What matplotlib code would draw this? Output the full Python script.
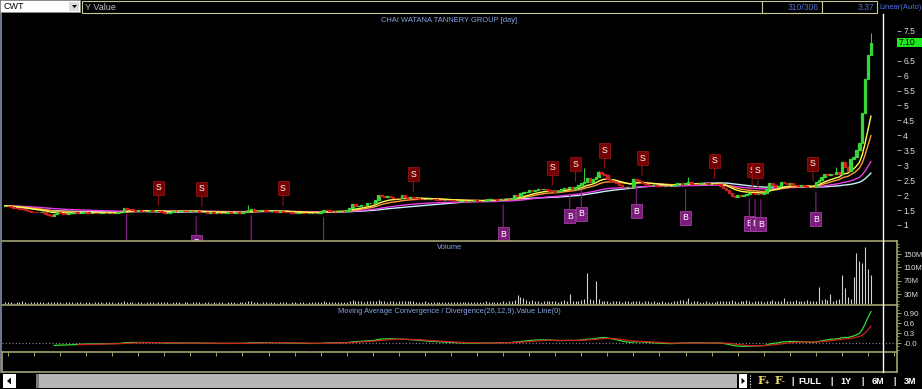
import numpy as np
import pandas as pd
import matplotlib
matplotlib.use("Agg")
import matplotlib.pyplot as plt
from matplotlib.patches import Rectangle, Polygon
from matplotlib.ticker import FixedLocator, FixedFormatter, MultipleLocator
from matplotlib.transforms import blended_transform_factory

plt.rcParams['font.family'] = ['Liberation Sans', 'DejaVu Sans']

# -- Data (daily bars, oldest first)
symbol = "CWT"
chart_title = "CHAI WATANA TANNERY GROUP [day]"
macd_title = "Moving Average Convergence / Divergence(26,12,9),Value Line(0)"
bar_count = "310/306"
cursor_value = "3.37"
scale_mode = "Linear(Auto)"
last_price = 7.10

closes = [
    1.64, 1.62, 1.60, 1.57, 1.56, 1.55, 1.52, 1.50, 1.48, 1.45, 1.44, 1.43, 1.42, 1.43, 1.38, 1.33, 1.31, 1.36, 1.43, 1.40,
    1.38, 1.37, 1.39, 1.41, 1.42, 1.40, 1.41, 1.43, 1.42, 1.41, 1.41, 1.40, 1.39, 1.40, 1.41, 1.40, 1.40, 1.39, 1.41, 1.43,
    1.45, 1.57, 1.54, 1.52, 1.50, 1.48, 1.49, 1.48, 1.47, 1.48, 1.49, 1.47, 1.48, 1.46, 1.44, 1.40, 1.41, 1.45, 1.47, 1.46,
    1.47, 1.48, 1.47, 1.46, 1.47, 1.46, 1.47, 1.44, 1.42, 1.42, 1.41, 1.42, 1.41, 1.41, 1.40, 1.41, 1.41, 1.42, 1.41, 1.41,
    1.42, 1.41, 1.42, 1.44, 1.50, 1.52, 1.48, 1.47, 1.49, 1.50, 1.48, 1.47, 1.48, 1.46, 1.45, 1.46, 1.45, 1.44, 1.42, 1.41,
    1.40, 1.40, 1.41, 1.40, 1.39, 1.40, 1.41, 1.40, 1.41, 1.43, 1.50, 1.49, 1.48, 1.47, 1.46, 1.47, 1.48, 1.47, 1.50, 1.57,
    1.70, 1.62, 1.64, 1.67, 1.66, 1.72, 1.75, 1.74, 1.85, 2.00, 1.97, 1.95, 1.96, 1.94, 1.92, 1.90, 1.89, 2.00, 1.95, 1.92,
    1.93, 1.92, 1.90, 1.88, 1.87, 1.88, 1.86, 1.87, 1.86, 1.85, 1.84, 1.83, 1.84, 1.83, 1.82, 1.81, 1.80, 1.80, 1.81, 1.80,
    1.81, 1.80, 1.82, 1.81, 1.80, 1.81, 1.84, 1.86, 1.87, 1.86, 1.85, 1.87, 1.86, 1.88, 1.87, 1.90, 2.02, 1.97, 2.07, 2.10,
    2.12, 2.17, 2.15, 2.18, 2.20, 2.19, 2.22, 2.18, 2.15, 2.13, 2.12, 2.13, 2.20, 2.25, 2.23, 2.27, 2.22, 2.27, 2.35, 2.40,
    2.45, 2.57, 2.44, 2.55, 2.62, 2.77, 2.72, 2.67, 2.55, 2.47, 2.44, 2.40, 2.33, 2.28, 2.27, 2.28, 2.27, 2.54, 2.50, 2.47,
    2.42, 2.36, 2.34, 2.33, 2.35, 2.32, 2.31, 2.30, 2.31, 2.29, 2.30, 2.34, 2.40, 2.42, 2.38, 2.40, 2.43, 2.38, 2.37, 2.36,
    2.40, 2.41, 2.39, 2.37, 2.38, 2.37, 2.36, 2.30, 2.24, 2.18, 2.07, 1.97, 1.94, 2.00, 1.98, 2.02, 2.05, 2.07, 2.06, 2.04,
    2.05, 2.03, 2.06, 2.20, 2.40, 2.35, 2.27, 2.30, 2.44, 2.40, 2.38, 2.40, 2.34, 2.33, 2.32, 2.34, 2.30, 2.27, 2.28, 2.27,
    2.44, 2.52, 2.62, 2.70, 2.68, 2.72, 2.70, 2.78, 2.72, 3.10, 2.95, 2.80, 3.20, 3.27, 3.50, 3.75, 4.75, 5.90, 6.70, 7.10,
]

# volume in millions of shares
volumes_m = [
    6, 5, 7, 4, 6, 5, 8, 5, 4, 6, 5, 7, 6, 5, 4, 6, 7, 5, 6, 5,
    4, 5, 6, 5, 4, 6, 5, 4, 5, 6, 4, 5, 6, 5, 4, 5, 6, 5, 4, 6,
    7, 8, 5, 6, 5, 4, 6, 5, 4, 5, 6, 5, 4, 6, 5, 7, 5, 4, 5, 6,
    5, 4, 6, 5, 4, 5, 6, 5, 4, 5, 6, 4, 5, 4, 6, 5, 4, 5, 6, 5,
    4, 5, 6, 7, 9, 8, 6, 5, 4, 6, 5, 4, 5, 6, 4, 5, 6, 5, 4, 5,
    5, 4, 6, 5, 4, 5, 6, 5, 6, 7, 8, 6, 5, 6, 5, 6, 7, 6, 7, 9,
    13, 9, 8, 10, 7, 8, 9, 8, 10, 11, 9, 8, 7, 9, 8, 7, 8, 10, 9, 8,
    9, 8, 7, 6, 7, 8, 6, 7, 6, 5, 6, 7, 6, 5, 6, 7, 5, 6, 5, 6,
    5, 6, 7, 6, 5, 6, 8, 7, 6, 7, 6, 7, 8, 7, 9, 10, 12, 28, 22, 17,
    12, 9, 11, 8, 9, 7, 8, 9, 10, 8, 9, 7, 8, 12, 10, 31, 9, 8, 10, 12,
    14, 94, 15, 12, 68, 16, 10, 9, 8, 7, 8, 9, 8, 7, 9, 8, 7, 9, 10, 8,
    7, 8, 9, 7, 8, 6, 7, 8, 7, 6, 7, 8, 9, 12, 11, 8, 17, 7, 9, 8,
    7, 6, 8, 7, 6, 7, 8, 9, 8, 10, 9, 11, 8, 7, 9, 10, 13, 8, 7, 9,
    8, 9, 7, 8, 10, 11, 9, 8, 9, 18, 10, 8, 9, 11, 10, 9, 8, 12, 10, 9,
    10, 52, 12, 14, 11, 31, 9, 13, 15, 88, 49, 20, 14, 80, 152, 130, 122, 172, 104, 87,
]

wick_highs = {84: 1.67, 200: 2.90, 205: 2.82, 236: 2.60, 287: 2.95, 299: 7.43}

sell_bars = [53, 68, 96, 141, 189, 197, 207, 220, 245, 258, 260, 279]
buy_bars = [42, 66, 85, 110, 172, 195, 199, 218, 235, 257, 259, 261, 280]

price_ticks = [1, 1.5, 2, 2.5, 3, 3.5, 4, 4.5, 5, 5.5, 6, 6.5, 7, 7.5]
price_tick_labels = ["1", "1.5", "2", "2.5", "3", "3.5", "4", "4.5", "5", "5.5", "6", "6.5", "", "7.5"]
volume_ticks = [30, 70, 110, 150]
volume_tick_labels = ["30M", "70M", "110M", "150M"]
macd_ticks = [0.0, 0.3, 0.6, 0.9]
macd_tick_labels = ["-0.0", "0.3", "0.6", "0.90"]
nav_buttons = ["FULL", "1Y", "6M", "3M"]

# -- derived series
c = pd.Series(closes)
o = c.shift(1).fillna(c.iloc[0])
hi = np.maximum(o, c).to_numpy()
lo = np.minimum(o, c).to_numpy()
for k, v in wick_highs.items():
    hi[k] = v
idx = np.arange(len(c))
up = (c >= o).to_numpy()

ema_fast = c.ewm(span=12, adjust=False).mean()
ema_mid = c.ewm(span=20, adjust=False).mean()
ema_slow = c.ewm(span=50, adjust=False).mean()
sma_slow = c.rolling(50, min_periods=1).mean()
macd = c.ewm(span=12, adjust=False).mean() - c.ewm(span=26, adjust=False).mean()
signal = macd.ewm(span=9, adjust=False).mean()

# -- layout (pixel based, 922 x 389)
W, H = 922, 389
BG = "black"
FRAME = "#a3a36e"
TITLE_C = "#86a6e6"
TICK_C = "#dcdcdc"

fig = plt.figure(figsize=(W / 100, H / 100), dpi=100, facecolor=BG)


def px_axes(x0, y0, x1, y1):
    a = fig.add_axes([x0 / W, 1 - y1 / H, (x1 - x0) / W, (y1 - y0) / H])
    a.set_facecolor(BG)
    for s in a.spines.values():
        s.set_visible(False)
    a.tick_params(bottom=False, labelbottom=False, left=False, labelleft=False)
    return a


step = 2.896  # pixels per bar
xlim = ((2 - 5) / step, (897 - 5) / step)

ax_p = px_axes(2, 14, 897, 240)
ax_v = px_axes(2, 241, 897, 304)
ax_m = px_axes(2, 305, 897, 352)
ax_t = px_axes(2, 352, 897, 372)
ax_p.set_zorder(1)
ax_v.set_zorder(2)
ax_m.set_zorder(2)
ax_t.set_zorder(2)

for a in (ax_p, ax_v, ax_m, ax_t):
    a.set_xlim(*xlim)


def right_axis(a, ticks, labels, minor=None, size=6.0):
    a.yaxis.tick_right()
    a.yaxis.set_major_locator(FixedLocator(ticks))
    a.yaxis.set_major_formatter(FixedFormatter(labels))
    if minor:
        a.yaxis.set_minor_locator(MultipleLocator(minor))
    a.tick_params(axis='y', which='major', right=True, labelright=True, length=3,
                  width=0.7, color=FRAME, labelcolor=TICK_C, labelsize=size, pad=1.5)
    a.tick_params(axis='y', which='minor', right=True, length=1.5, width=0.6, color=FRAME)


# -- price panel
ax_p.set_ylim(0.498, 8.06)
right_axis(ax_p, price_ticks, price_tick_labels, size=6.2)
ax_p.plot(idx, sma_slow, color="#c8f0ff", lw=1.0, zorder=3)
ax_p.plot(idx, ema_slow, color="#e83ce8", lw=1.0, zorder=3)
ax_p.plot(idx, ema_mid, color="#ff9a3a", lw=1.0, zorder=3)
ax_p.plot(idx, ema_fast, color="#ffff50", lw=1.0, zorder=3)
cols = np.where(up, "#38d438", "#d02020")
ax_p.vlines(idx, lo, hi, colors=cols, lw=0.7, zorder=4)
ax_p.bar(idx, hi * 0 + (np.maximum(c, o) - np.minimum(c, o)).to_numpy(), bottom=lo, width=0.85,
         color=cols, edgecolor=cols, lw=0.9, zorder=4)

for i in sell_bars:
    ax_p.annotate("S", xy=(i, hi[i]), xytext=(0, 23), textcoords="offset pixels",
                  ha="center", va="center", fontsize=6.3, color="white", zorder=6,
                  bbox=dict(boxstyle="square,pad=0.3", fc="#740000", ec="#8c1414", lw=0.6),
                  arrowprops=dict(arrowstyle="-", color="#8c1414", lw=0.8, shrinkA=0, shrinkB=4))
buy_drop = [40, 31, 40, 40, 35, 28, 29, 31, 34, 30, 30, 30, 32]
for i, d in zip(buy_bars, buy_drop):
    ax_p.annotate("B", xy=(i, lo[i]), xytext=(0, -d), textcoords="offset pixels",
                  ha="center", va="center", fontsize=6.3, color="white", zorder=6,
                  bbox=dict(boxstyle="square,pad=0.3", fc="#7c1c7c", ec="#a040a0", lw=0.6),
                  arrowprops=dict(arrowstyle="-", color="#8a208a", lw=0.8, shrinkA=0, shrinkB=4))

ax_p.text(0.5, 0.973, chart_title, transform=ax_p.transAxes, ha="center", va="center",
          fontsize=5.4, color=TITLE_C)

# last price tag
bt = blended_transform_factory(ax_p.transAxes, ax_p.transData)
ax_p.add_patch(Rectangle((1.0, last_price - 0.15), 25 / 895, 0.30, transform=bt,
                         fc="#1fe81f", ec="none", clip_on=False, zorder=8))
ax_p.text(1.0 + 2 / 895, last_price, f"{last_price:.2f}", transform=bt, ha="left",
          va="center", fontsize=6.2, color="black", clip_on=False, zorder=9)

# -- volume panel
ax_v.set_ylim(0, 189.5)
right_axis(ax_v, volume_ticks, volume_tick_labels, minor=10, size=5.6)
ax_v.vlines(idx, 0, volumes_m, color="#d0d0d0", lw=0.8)
ax_v.spines["top"].set_visible(True)
ax_v.spines["right"].set_visible(True)
ax_v.text(0.5, 0.9, "Volume", transform=ax_v.transAxes, ha="center", va="center",
          fontsize=5.4, color=TITLE_C)

# -- MACD panel
ax_m.set_ylim(-0.27, 1.14)
right_axis(ax_m, macd_ticks, macd_tick_labels, minor=0.1, size=5.8)
ax_m.axhline(0, color="#8a8a8a", lw=0.8, ls=(0, (1, 2)))
ax_m.plot(idx[17:], macd.iloc[17:], color="#30e030", lw=0.9)
ax_m.plot(idx[25:], signal.iloc[25:], color="#d02020", lw=0.9)
ax_m.spines["top"].set_visible(True)
ax_m.spines["right"].set_visible(True)
ax_m.text(0.5, 0.86, macd_title, transform=ax_m.transAxes, ha="center", va="center",
          fontsize=5.4, color=TITLE_C)

# -- time strip
ax_t.set_ylim(0, 1)
ax_t.set_xticks(np.arange(1, 310, 9))
ax_t.tick_params(axis='x', bottom=False, top=True, labeltop=False, labelbottom=False,
                 direction="in", length=3, width=0.7, color=FRAME)
for side in ("top", "bottom", "left", "right"):
    ax_t.spines[side].set_visible(True)

for a in (ax_v, ax_m, ax_t):
    for s in a.spines.values():
        s.set_color(FRAME)
        s.set_linewidth(1.2)

# -- window chrome (overlay in pixel coordinates)
ui = fig.add_axes([0, 0, 1, 1])
ui.set_xlim(0, W)
ui.set_ylim(H, 0)
ui.axis("off")
ui.set_zorder(10)
ui.patch.set_alpha(0)

# top bar
ui.add_patch(Rectangle((0, 0), 80, 12, fc="white", ec="#909090", lw=0.6))
ui.add_patch(Rectangle((69, 1.5), 10, 9.5, fc="#dcdcdc", ec="none"))
ui.add_patch(Polygon([(72, 5), (77, 5), (74.5, 8)], closed=True, fc="black"))
ui.text(3, 6.5, symbol, fontsize=6.5, color="black", va="center", ha="left")
ui.add_patch(Rectangle((82, 0.5), 680, 12.5, fc="black", ec="#c8c898", lw=0.8))
ui.text(85, 7, "Y Value", fontsize=6.5, color="#c0c0c0", va="center", ha="left")
ui.add_patch(Rectangle((762, 0.5), 60, 12.5, fc="black", ec="#c8c898", lw=0.8))
ui.text(819, 7, bar_count, fontsize=6.2, color="#5070c8", va="center", ha="right")
ui.add_patch(Rectangle((822, 0.5), 55, 12.5, fc="black", ec="#c8c898", lw=0.8))
ui.text(874, 7, cursor_value, fontsize=6.2, color="#5070c8", va="center", ha="right")
ui.text(879.5, 7, scale_mode, fontsize=5.5, color="#4a72e8", va="center", ha="left")

# borders and cursor line
ui.plot([1, 1], [13, 372], color="#8090a8", lw=1.2)
ui.plot([883, 883], [14, 372], color="white", lw=1.0)

# bottom scrollbar
ui.add_patch(Rectangle((3, 374), 13, 14, fc="white", ec="none"))
ui.add_patch(Polygon([(7, 381), (11, 377.5), (11, 384.5)], closed=True, fc="black"))
ui.add_patch(Rectangle((36, 374), 701, 14, fc="#b6b6b6", ec="none"))
ui.add_patch(Rectangle((36, 374), 2.5, 14, fc="#7c7c7c", ec="none"))
ui.add_patch(Rectangle((739, 374), 8, 14, fc="white", ec="none"))
ui.add_patch(Polygon([(741.5, 378), (745, 381), (741.5, 384)], closed=True, fc="black"))
ui.plot([750, 750], [375, 387], color="white", lw=0.8, ls=(0, (1, 1.5)))
ui.text(758, 381, "F", fontsize=8, color="#e8d870", va="center", ha="left",
        family="DejaVu Serif", weight="bold")
ui.text(764.5, 383, "+", fontsize=5.5, color="#e8d870", va="center", ha="left", weight="bold")
ui.text(775, 381, "F", fontsize=8, color="#e8d870", va="center", ha="left",
        family="DejaVu Serif", weight="bold")
ui.text(781.5, 382, "-", fontsize=6, color="#e8d870", va="center", ha="left", weight="bold")
for x in (793, 832, 863, 895):
    ui.text(x, 381, "|", fontsize=6.5, color="white", va="center", ha="center", weight="bold")
for x, lab in zip((810, 846, 878, 910), nav_buttons):
    ui.text(x, 381, lab, fontsize=6.5, color="white", va="center", ha="center", weight="bold")

fig.savefig("out.png", dpi=100, facecolor=BG)
